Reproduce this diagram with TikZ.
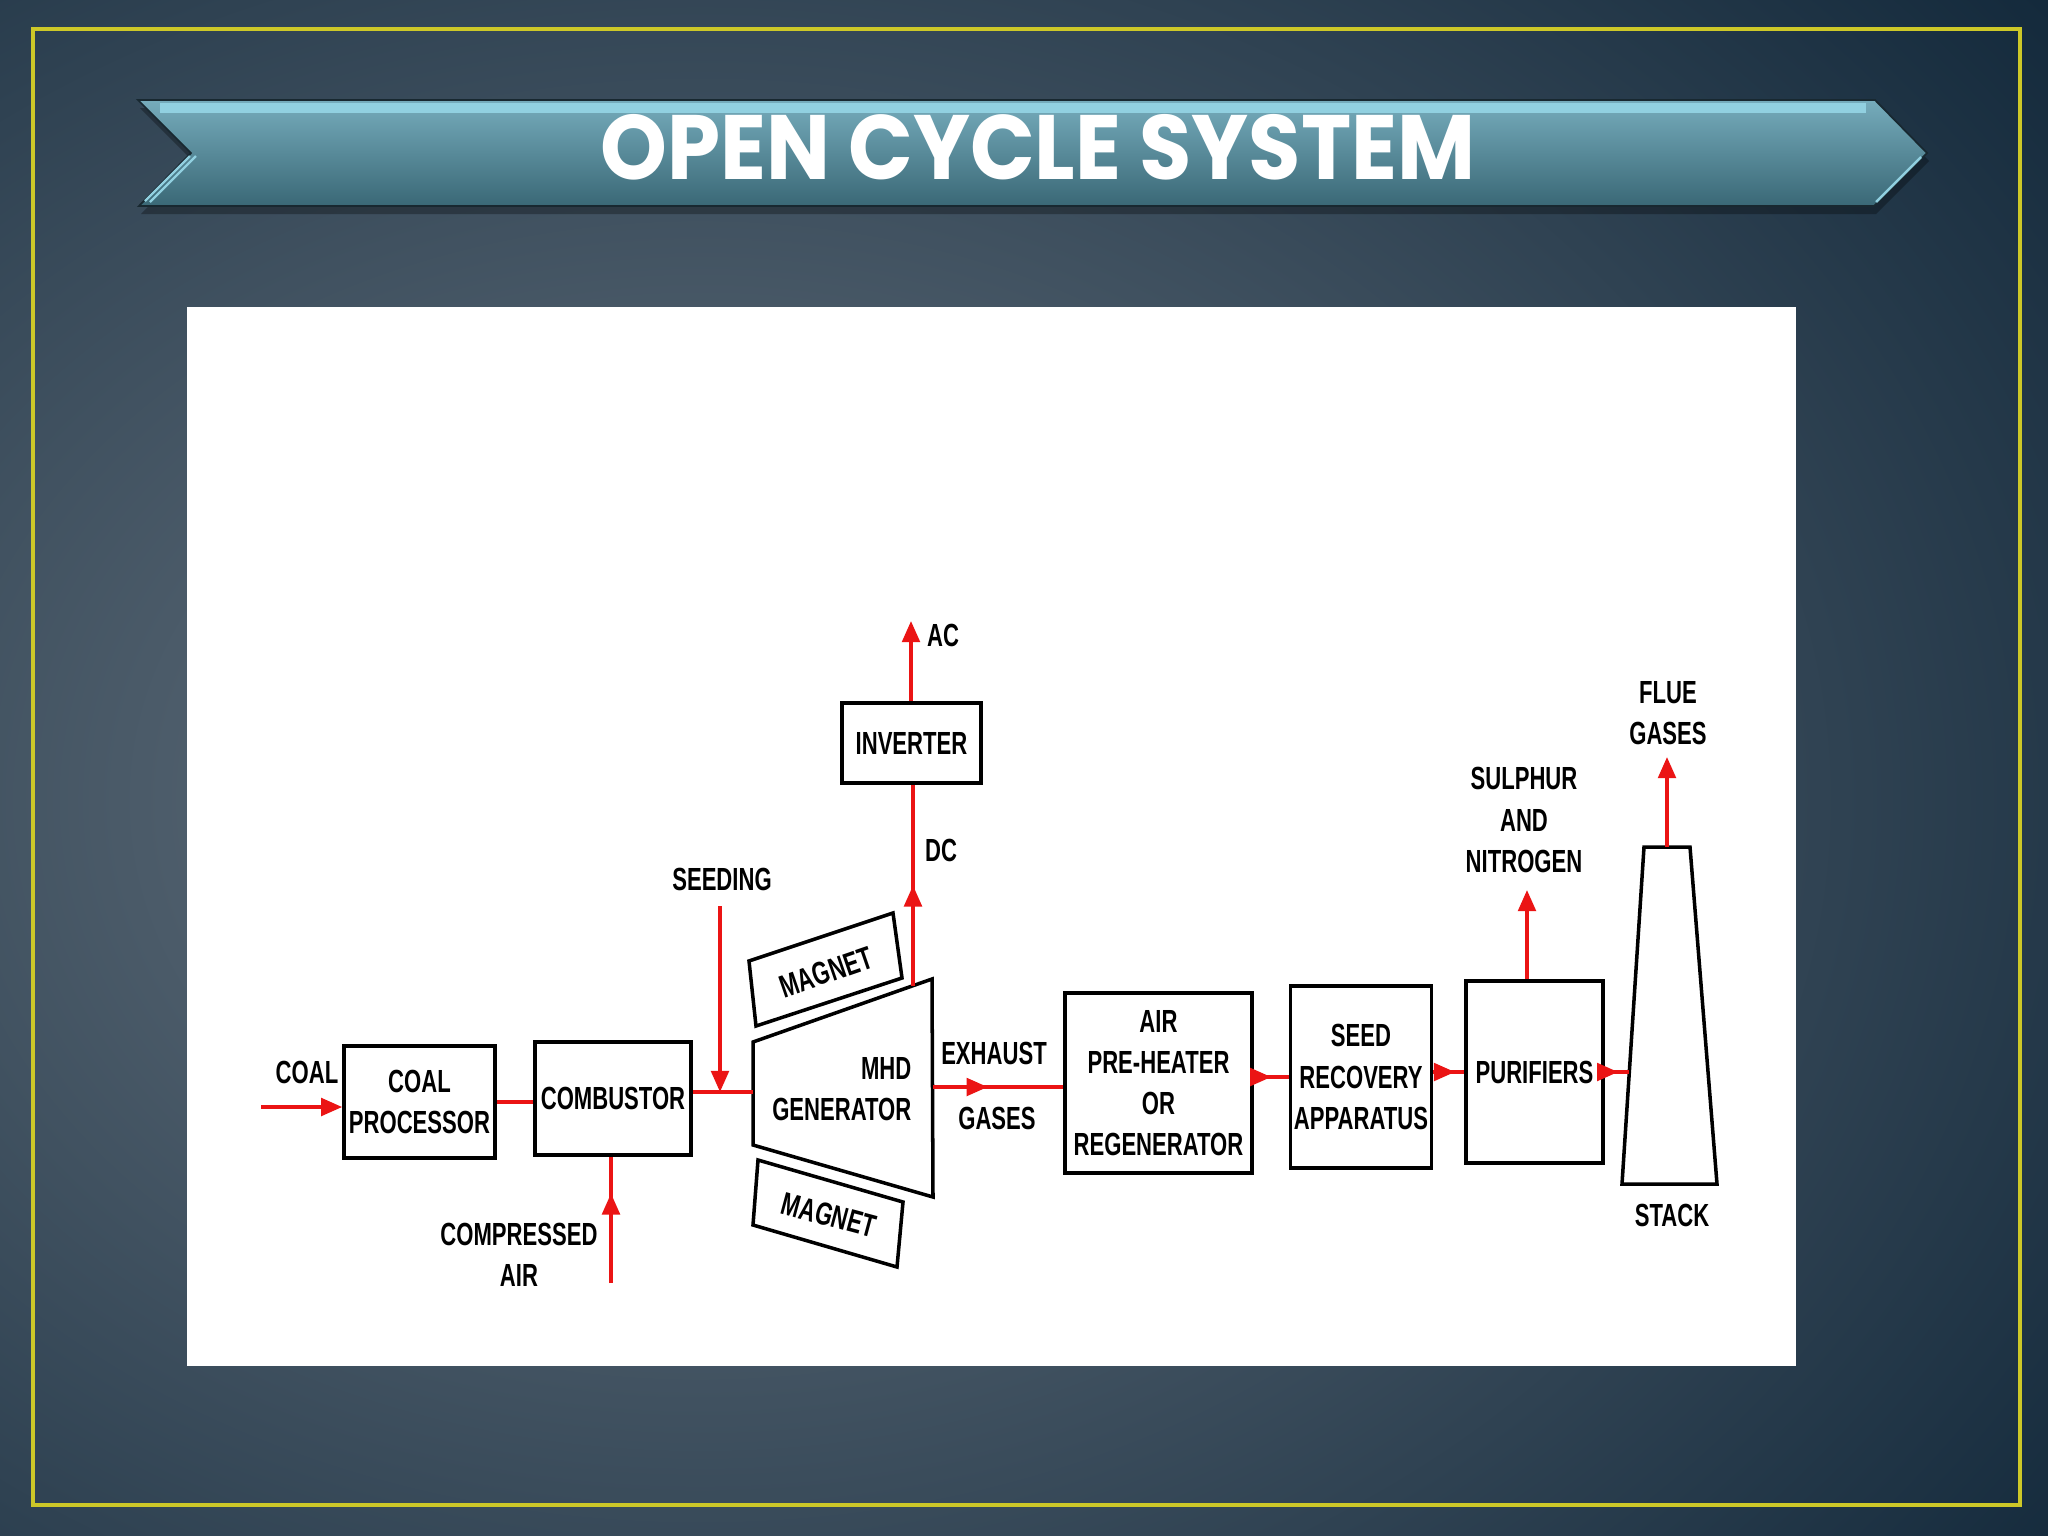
\documentclass[tikz,border=0pt]{standalone}
\usepackage{fontspec}
\newfontfamily\blockfont{Liberation Sans}[FakeStretch=0.69]
\newfontfamily\titlefont{Poppins}
\usetikzlibrary{arrows.meta,decorations.markings}

\definecolor{bgdark}{RGB}{20,42,60}
\definecolor{bglight}{RGB}{102,115,127}
\definecolor{framegold}{RGB}{205,200,40}
\definecolor{bannertop}{RGB}{118,172,188}
\definecolor{bannermid}{RGB}{80,132,146}
\definecolor{bannerbot}{RGB}{58,104,118}
\definecolor{bannerhi}{RGB}{145,208,224}
\definecolor{bannerrim}{RGB}{24,40,48}
\definecolor{flowred}{RGB}{235,20,20}

\tikzset{
  unitbox/.style={draw=black, line width=1pt, fill=white, inner sep=1pt, align=center,
    font=\blockfont\bfseries\fontsize{9.1}{11.7}\selectfont},
  flowlabel/.style={inner sep=0pt, align=center, font=\blockfont\bfseries\fontsize{9.1}{11.7}\selectfont},
  redflow/.style={draw=flowred, line width=1pt},
  midtip/.style={postaction={decorate}, decoration={markings,
    mark=at position #1 with {\arrow{Triangle[length=6pt, width=5pt]}}}}
}

\begin{document}
\begin{tikzpicture}[x=0.01cm, y=-0.01cm, >={Triangle[length=6pt, width=5pt]}]
\useasboundingbox (0,0) rectangle (2048,1536);

% slide background
\fill[bgdark] (0,0) rectangle (2048,1536);
\begin{scope}
\clip (0,0) rectangle (2048,1536);
\shade[inner color=bglight, outer color=bgdark] (700,800) ellipse (17cm and 13cm);
\end{scope}
\draw[framegold, line width=0.9pt] (33,29) rectangle (2020,1505);

% title banner
\fill[black, opacity=0.3] (140,108) -- (1877,108) -- (1929,161) -- (1876,214) -- (141,214) -- (193,161) -- cycle;
\shade[top color=bannertop, middle color=bannermid, bottom color=bannerbot, draw=bannerrim, line width=0.5pt]
  (138,100) -- (1875,100) -- (1927,153) -- (1874,206) -- (139,206) -- (191,153) -- cycle;
\draw[bannerhi, line width=2.6pt] (160,108) -- (1866,108);
\draw[bannerhi, line width=0.7pt] (196,156) -- (150,202);
\draw[bannerhi, line width=0.7pt] (190,156) -- (145,201);
\draw[bannerhi, line width=0.7pt] (1921,157) -- (1876,202);
\node[font=\titlefont\bfseries\fontsize{26}{30}\selectfont, text=white, inner sep=0pt, xscale=0.93]
  (title) at (1038,147) {OPEN CYCLE SYSTEM};

% diagram panel
\fill[white] (187,307) rectangle (1796,1366);

% blocks
\node[unitbox, minimum width=1.51cm, minimum height=1.12cm] (coalproc) at (419.5,1102) {COAL\\PROCESSOR};
\node[unitbox, minimum width=1.56cm, minimum height=1.13cm] (combustor) at (613,1098.5) {COMBUSTOR};
\node[unitbox, minimum width=1.39cm, minimum height=0.80cm] (inverter) at (911.5,743) {INVERTER};
\node[unitbox, minimum width=1.87cm, minimum height=1.80cm] (preheater) at (1158.5,1083) {AIR\\PRE-HEATER\\OR\\REGENERATOR};
\node[unitbox, minimum width=1.38cm, minimum height=1.82cm] (seedrec) at (1361,1077) {SEED\\RECOVERY\\APPARATUS};
\node[unitbox, minimum width=1.37cm, minimum height=1.82cm] (purifier) at (1534.5,1072) {PURIFIERS};

% MHD generator and magnets
\draw[line width=1pt, fill=white] (753,1042) -- (932,979) -- (933,1197) -- (753,1145) -- cycle;
\draw[line width=1pt] (749,961) -- (893,913) -- (902,978) -- (756,1026) -- cycle;
\draw[line width=1pt] (758,1160) -- (903,1202) -- (897,1267) -- (753,1225) -- cycle;
\node[flowlabel, anchor=east, align=right] (genlbl) at (912,1089) {MHD\\GENERATOR};
\node[flowlabel, rotate=19] (magtop) at (826,972) {MAGNET};
\node[flowlabel, rotate=-15] (magbot) at (829,1215) {MAGNET};
\coordinate (genL) at (753,1092);
\coordinate (genR) at (933,1087);
\coordinate (genT) at (913,986);

% stack
\draw[line width=1pt] (1644,847) -- (1690,847) -- (1717,1184) -- (1622,1184) -- cycle;
\coordinate (stacktop) at (1667,847);
\coordinate (stackin) at (1629,1072);

% free ends
\coordinate (coalin) at (261,1107);
\coordinate (seedtop) at (720,906);
\coordinate (airbot) at (611,1283);
\coordinate (actip) at (911,621);
\coordinate (sulphtip) at (1527,890);
\coordinate (fluetip) at (1667,757);

% labels
\node[flowlabel] (coallbl) at (307,1072) {COAL};
\node[flowlabel] (seedlbl) at (722,879) {SEEDING};
\node[flowlabel] (airlbl) at (519,1255) {COMPRESSED\\AIR};
\node[flowlabel] (aclbl) at (943,635) {AC};
\node[flowlabel] (dclbl) at (941,850) {DC};
\node[flowlabel] (exhlbl) at (994,1053) {EXHAUST};
\node[flowlabel] (gaslbl) at (997,1118) {GASES};
\node[flowlabel] (sulphlbl) at (1524,820) {SULPHUR\\AND\\NITROGEN};
\node[flowlabel] (fluelbl) at (1668,713) {FLUE\\GASES};
\node[flowlabel] (stacklbl) at (1672,1215) {STACK};

% flows
\draw[redflow, ->] (coalin) -- (coalin -| coalproc.west);
\draw[redflow] (coalproc.east) -- (coalproc.east -| combustor.west);
\draw[redflow] (genL -| combustor.east) -- (genL);
\draw[redflow, ->] (seedtop) -- (seedtop |- genL);
\draw[redflow, midtip=0.71] (airbot) -- (airbot |- combustor.south);
\draw[redflow, midtip=0.5] (genT) -- (genT |- inverter.south);
\draw[redflow, ->] (actip |- inverter.north) -- (actip);
\draw[redflow, midtip=0.42] (genR) -- (genR -| preheater.west);
\draw[redflow, midtip=0.5] (seedrec.west -| preheater.east) -- (seedrec.west);
\draw[redflow, midtip=0.7] (purifier.west -| seedrec.east) -- (purifier.west);
\draw[redflow, midtip=0.55] (purifier.east) -- (stackin);
\draw[redflow, ->] (sulphtip |- purifier.north) -- (sulphtip);
\draw[redflow, ->] (stacktop) -- (fluetip);
\end{tikzpicture}
\end{document}
